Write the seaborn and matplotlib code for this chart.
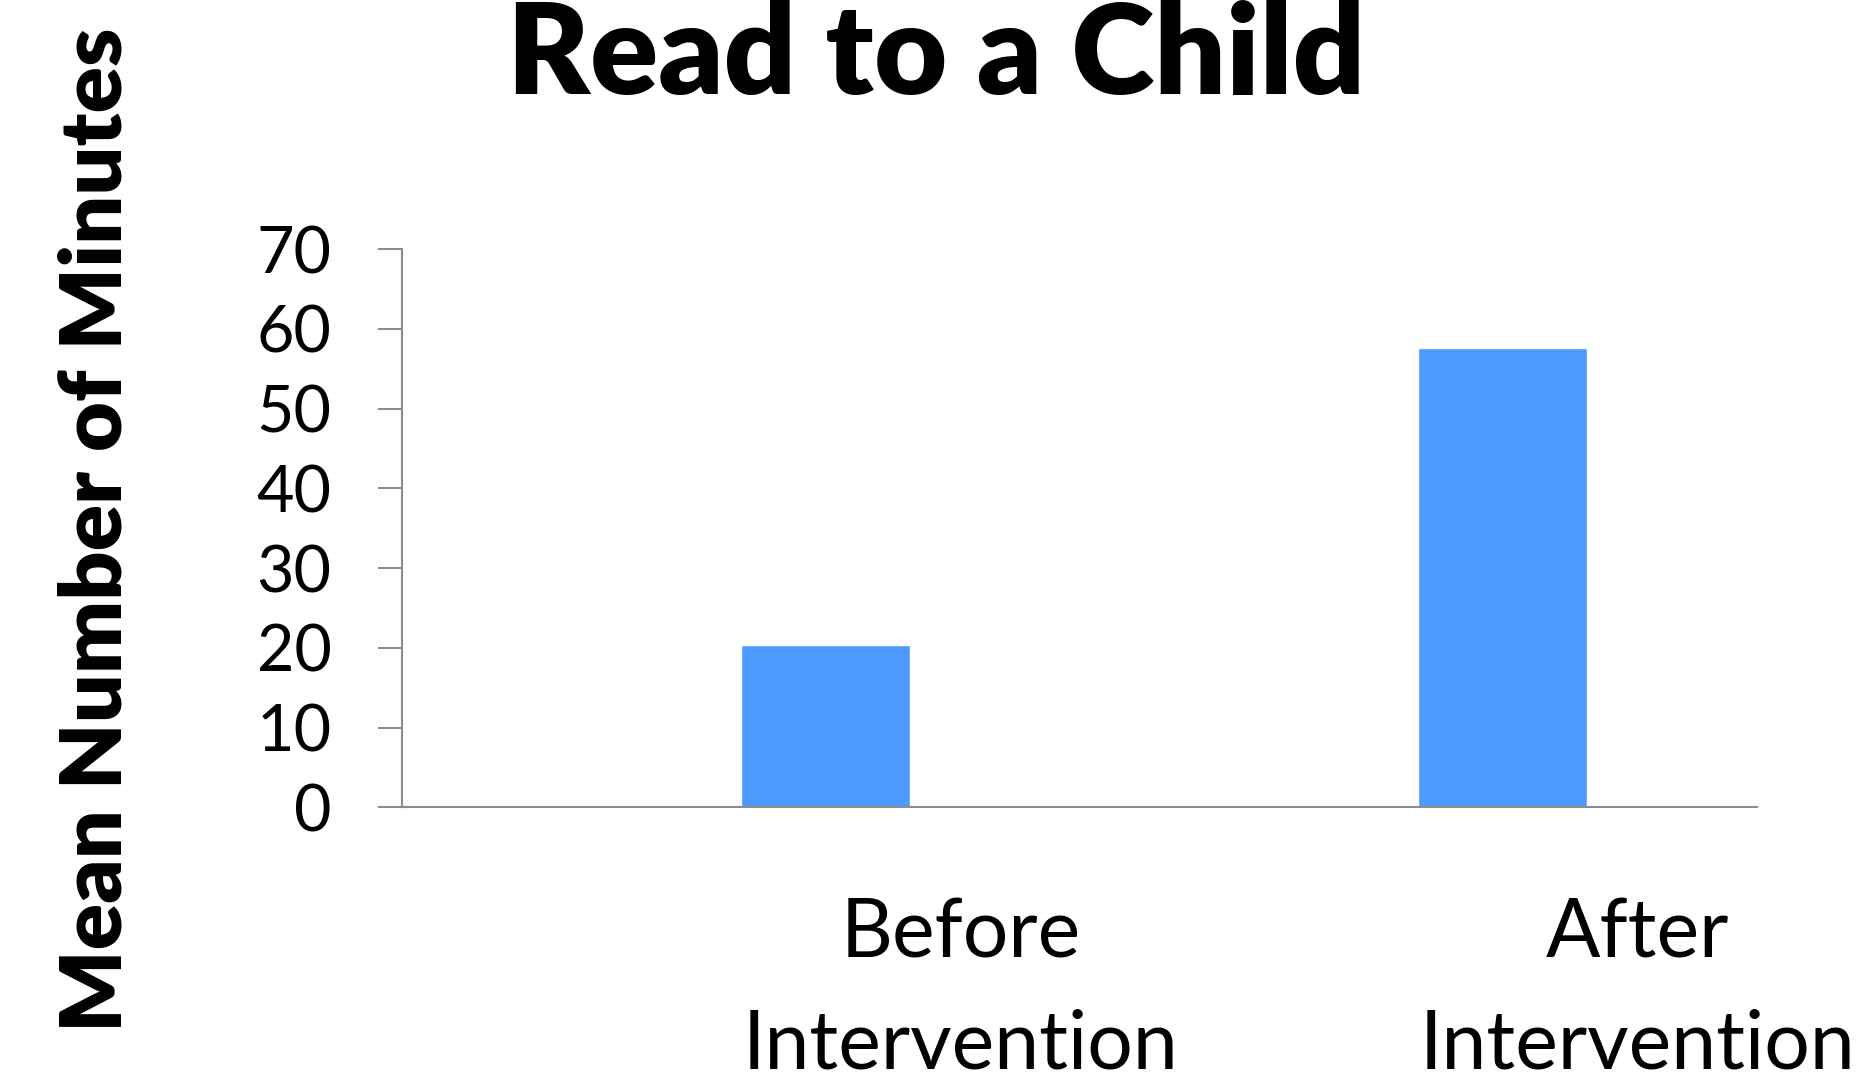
import matplotlib
matplotlib.use("Agg")
import matplotlib.pyplot as plt
import matplotlib.transforms as mtransforms
import seaborn as sns
import pandas as pd

# ---- data ----
title = "Read to a Child"
y_label = "Mean Number of Minutes"
categories = ["Before\nIntervention", "After\nIntervention"]
minutes = [20.3, 57.6]
y_ticks = [0, 10, 20, 30, 40, 50, 60, 70]

df = pd.DataFrame({"phase": categories, "minutes": minutes})

sns.set_theme(style="white")
plt.rcParams["font.family"] = ["Lato", "DejaVu Sans"]

BAR = "#4D99FF"
AXIS = "#8C8C8C"

fig = plt.figure(figsize=(18.61, 10.80), dpi=100)
ax = fig.add_axes([0.2162, 0.2525, 0.7277, 0.5167])

sns.barplot(data=df, x="phase", y="minutes", ax=ax, color=BAR,
            saturation=1, width=0.25, order=categories)

ax.set_xlim(-0.625, 1.375)
ax.set_ylim(0, 70)
ax.set_yticks(y_ticks)
ax.set_yticklabels([str(t) for t in y_ticks])

sns.despine(ax=ax, top=True, right=True)
for side in ["left", "bottom"]:
    ax.spines[side].set_color(AXIS)
    ax.spines[side].set_linewidth(1.5)

ax.tick_params(axis="y", direction="out", length=17, width=1.5, color=AXIS,
               labelsize=46.5, pad=34, labelcolor="black", left=True)
ax.tick_params(axis="x", length=0, labelsize=58, pad=65, labelcolor="black")

# shift category labels like the original chart
offset = mtransforms.ScaledTranslation(1.35, 0, fig.dpi_scale_trans)
for lab in ax.get_xticklabels():
    lab.set_transform(lab.get_transform() + offset)
    lab.set_linespacing(1.62)
    lab.set_multialignment("center")

ax.set_xlabel("")
ax.set_ylabel(y_label, fontsize=62, fontweight="heavy", color="black")
ax.yaxis.label.set_va("center")
ax.yaxis.set_label_coords(-0.2256, 0.497)

ax.set_title(title, fontsize=91, fontweight="heavy", color="black",
             x=0.394, y=1.279, pad=0, va="baseline")

ax.grid(False)
fig.savefig("out.png", dpi=100, facecolor="white")
